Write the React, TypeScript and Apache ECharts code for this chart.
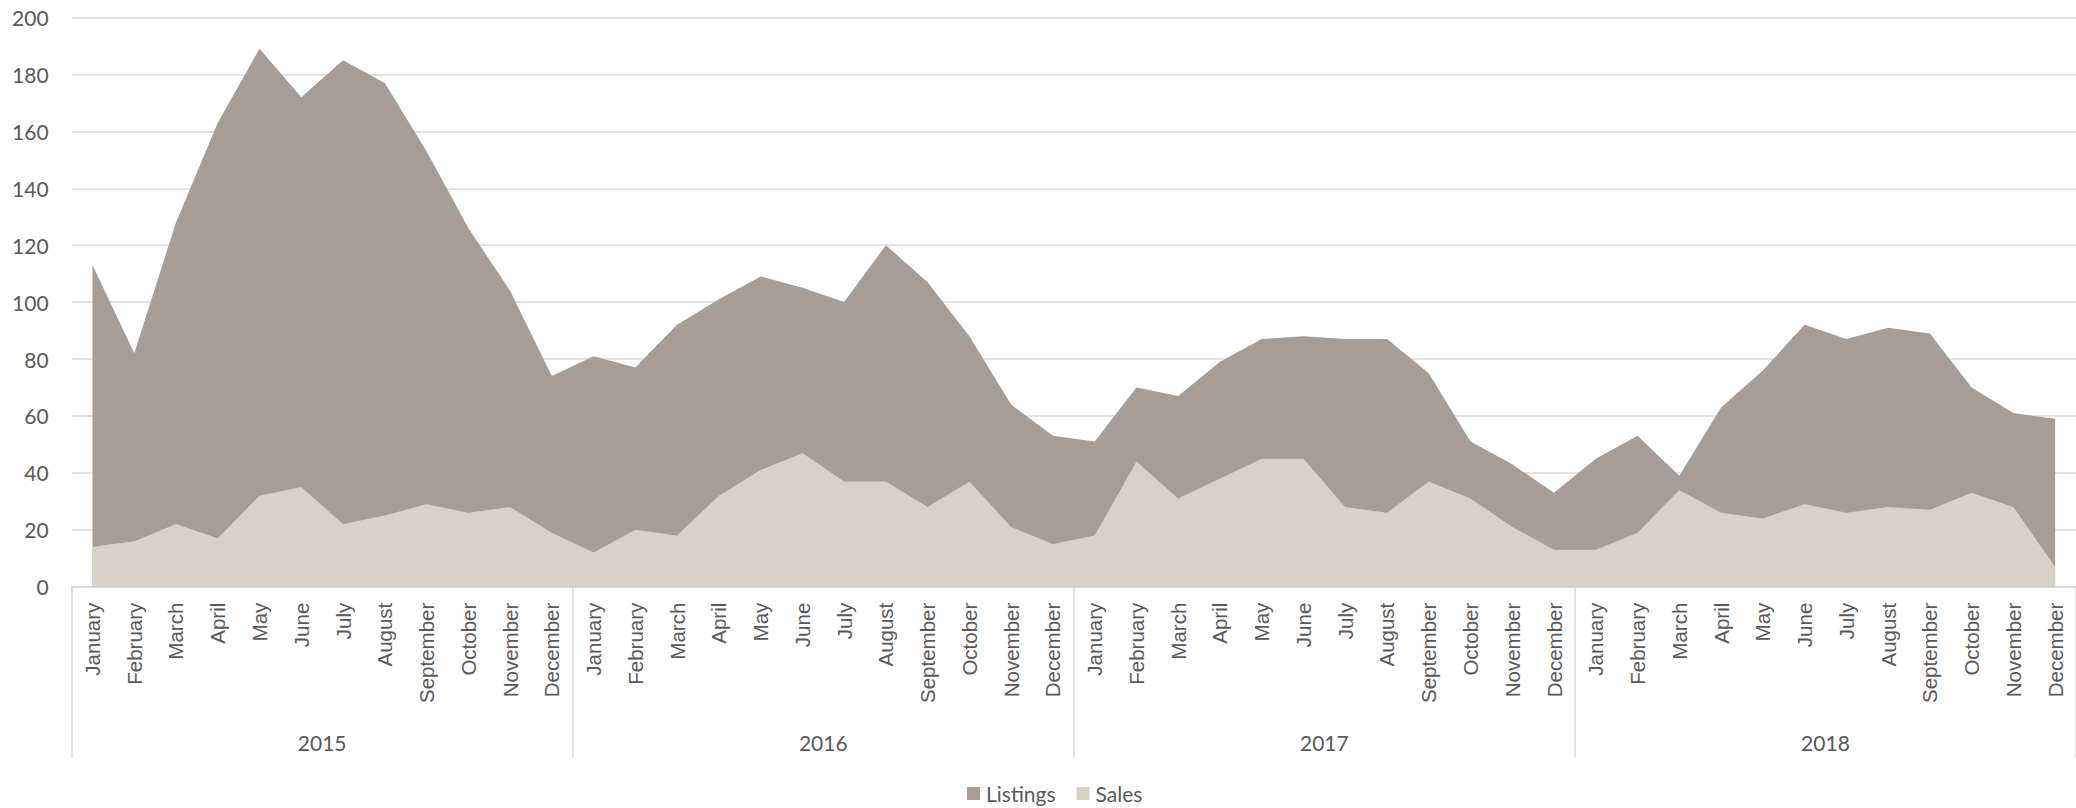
import React, { useEffect, useRef } from "react";
import * as echarts from "echarts";

const monthNames = [
  "January", "February", "March", "April", "May", "June",
  "July", "August", "September", "October", "November", "December",
];
const years = ["2015", "2016", "2017", "2018"];
const months = years.flatMap(() => monthNames);

const listings = [
  113, 82, 128, 163, 189, 172, 185, 177, 153, 126, 104, 74,
  81, 77, 92, 101, 109, 105, 100, 120, 107, 88, 64, 53,
  51, 70, 67, 79, 87, 88, 87, 87, 75, 51, 43, 33,
  45, 53, 39, 63, 76, 92, 87, 91, 89, 70, 61, 59,
];
const sales = [
  14, 16, 22, 17, 32, 35, 22, 25, 29, 26, 28, 19,
  12, 20, 18, 32, 41, 47, 37, 37, 28, 37, 21, 15,
  18, 44, 31, 38, 45, 45, 28, 26, 37, 31, 21, 13,
  13, 19, 34, 26, 24, 29, 26, 28, 27, 33, 28, 7,
];

const TEXT = "#595959";
const GRID = "#D9D9D9";
const NUM_FONT = "Lato, 'Liberation Sans', sans-serif";

export default function App() {
  const ref = useRef<HTMLDivElement>(null);
  useEffect(() => {
    if (!ref.current) return;
    const chart = echarts.init(ref.current, null, { renderer: "svg" });
    chart.setOption({
      animation: false,
      backgroundColor: "#ffffff",
      grid: { left: 71.6, top: 17.5, width: 2006.4, height: 569.2, containLabel: false },
      legend: {
        data: ["Listings", "Sales"],
        left: 967,
        top: 783,
        padding: 0,
        itemWidth: 13,
        itemHeight: 13,
        itemGap: 21,
        icon: "rect",
        textStyle: { color: TEXT, fontSize: 21, fontFamily: NUM_FONT, padding: [0, 0, 0, 1] },
      },
      xAxis: [
        {
          type: "category",
          data: months,
          boundaryGap: true,
          position: "bottom",
          axisLine: { show: true, lineStyle: { color: GRID, width: 1.5 } },
          axisTick: { show: false },
          axisLabel: {
            interval: 0,
            rotate: 90,
            margin: 16,
            color: TEXT,
            fontSize: 20.5,
            fontFamily: "'Liberation Sans', Arial, sans-serif",
          },
          splitLine: { show: false },
        },
        {
          type: "category",
          data: years,
          boundaryGap: true,
          position: "bottom",
          gridIndex: 0,
          axisLine: { show: false },
          axisTick: { show: true, interval: 0, length: 171, lineStyle: { color: GRID, width: 1.5 } },
          axisLabel: {
            interval: 0,
            margin: 145,
            color: TEXT,
            fontSize: 21,
            fontFamily: NUM_FONT,
          },
          splitLine: { show: false },
        },
      ],
      yAxis: {
        type: "value",
        min: 0,
        max: 200,
        interval: 20,
        axisLine: { show: false },
        axisTick: { show: false },
        axisLabel: { color: TEXT, fontSize: 21, fontFamily: NUM_FONT, margin: 23 },
        splitLine: { show: true, lineStyle: { color: GRID, width: 1.5 } },
      },
      series: [
        {
          name: "Listings",
          type: "line",
          xAxisIndex: 0,
          data: listings,
          showSymbol: false,
          symbol: "none",
          lineStyle: { width: 0 },
          itemStyle: { color: "#A59D96" },
          areaStyle: { color: "#A59D96", opacity: 1 },
        },
        {
          name: "Sales",
          type: "line",
          xAxisIndex: 0,
          data: sales,
          showSymbol: false,
          symbol: "none",
          lineStyle: { width: 0 },
          itemStyle: { color: "#D6D2C6" },
          areaStyle: { color: "#D6D2C6", opacity: 1 },
        },
      ],
    });
    return () => chart.dispose();
  }, []);
  return (
    <div
      ref={ref}
      style={{ position: "fixed", left: 0, top: 0, width: 2076, height: 808, background: "#fff" }}
    />
  );
}
